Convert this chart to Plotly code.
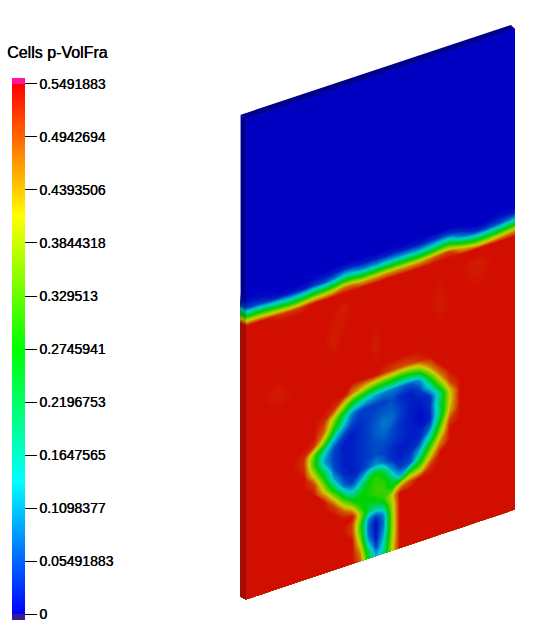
import numpy as np
import plotly.graph_objects as go

# Colour bar labels
tick_values = [0, 0.05491883, 0.1098377, 0.1647565, 0.2196753, 0.2745941, 0.329513,
               0.3844318, 0.4393506, 0.4942694, 0.5491883]
tick_labels = ["0", "0.05491883", "0.1098377", "0.1647565", "0.2196753", "0.2745941",
               "0.329513", "0.3844318", "0.4393506", "0.4942694", "0.5491883"]

# Sample positions on the front face: across (screen x) and down the face from its top edge
across = [246, 262, 278, 294, 304, 314, 324, 334, 344, 352, 360, 368, 376, 384, 392, 400,
          410, 420, 430, 440, 450, 460, 476, 495, 515]
down = [0, 150, 178, 184, 190, 196, 202, 208, 214, 222, 250, 270, 290, 300, 310, 320, 330, 340,
        350, 360, 370, 380, 390, 400, 410, 418, 426, 434, 442, 450, 458, 466, 474, 481]

# Volume fraction, in hundredths
volfrac_pct = [
 [0]*25,
 [0]*25,
 [0]*25,
 [1,1,0,0,0,1,1,2,3,3,2,2,2,2,2,2,2,2,3,4,4,2,0,1,2],
 [5,4,2,2,2,4,5,8,13,13,10,10,10,11,11,11,11,11,13,15,17,9,3,5,11],
 [21,20,17,15,17,20,21,24,29,29,26,26,26,27,27,27,27,27,29,33,34,26,18,21,27],
 [39,38,35,33,35,38,39,42,47,47,44,44,44,45,45,45,45,45,47,50,51,44,36,39,45],
 [54,54,52,51,52,54,54,54,54,54,54,54,54,54,54,54,54,54,54,54,54,54,54,54,54],
 [54,54,54,54,54,54,54,54,54,54,54,54,54,54,54,54,54,54,54,54,54,54,54,54,54],
 [54,54,54,54,54,54,54,54,53,54,54,54,54,54,54,54,54,54,54,54,54,54,53,54,54],
 [54,54,54,54,54,54,54,53,54,54,54,54,54,54,54,54,54,54,54,53,54,54,54,54,54],
 [54,54,54,54,54,54,54,54,54,54,54,54,53,54,54,54,54,54,54,54,54,54,54,54,54],
 [54,54,53,54,54,54,54,54,54,54,54,54,54,54,54,54,54,54,54,54,54,54,54,54,54],
 [54,54,54,54,54,54,54,54,54,54,54,54,54,52,51,50,50,52,54,54,54,54,54,54,54],
 [54,54,54,54,54,54,54,54,54,47,42,37,33,31,30,28,29,34,46,54,54,54,54,54,54],
 [54,54,54,54,54,54,54,52,38,27,20,14,11,9,8,7,6,10,30,47,54,54,54,54,54],
 [54,54,54,54,54,54,52,38,22,9,5,4,4,4,5,3,2,4,15,34,51,54,54,54,54],
 [54,54,54,54,54,54,48,29,12,5,3,4,5,6,6,4,2,2,3,19,42,54,54,54,54],
 [54,54,54,54,54,52,36,13,4,2,3,4,6,8,7,4,2,1,3,21,41,54,54,54,54],
 [54,54,54,54,52,34,16,5,2,2,3,4,6,7,5,3,2,1,2,21,44,54,54,54,54],
 [54,54,54,54,52,31,11,4,2,2,3,4,5,5,4,3,2,2,6,29,51,54,54,54,54],
 [54,54,54,54,54,40,22,5,2,2,3,4,5,4,3,2,2,3,17,38,54,54,54,54,54],
 [54,54,54,54,54,51,32,11,3,2,3,6,10,7,3,2,3,11,31,47,54,54,54,54,54],
 [54,54,54,54,54,54,42,24,7,4,10,22,29,24,10,4,6,24,42,54,54,54,54,54,54],
 [54,54,54,54,54,54,54,41,24,15,22,28,31,30,23,13,34,40,52,54,54,54,54,54,54],
 [54,54,54,54,54,54,54,51,37,28,27,28,31,31,27,42,50,54,54,54,54,54,54,54,54],
 [54,54,54,54,54,54,54,54,49,42,29,26,27,30,40,54,54,54,54,54,54,54,54,54,54],
 [54,54,54,54,54,54,54,54,54,54,38,22,17,22,38,54,54,54,54,54,54,54,54,54,54],
 [54,54,54,54,54,54,54,54,54,51,34,10,3,10,37,54,54,54,54,54,54,54,54,54,54],
 [54,54,54,54,54,54,54,54,54,51,33,7,1,8,36,54,54,54,54,54,54,54,54,54,54],
 [54,54,54,54,54,54,54,54,54,54,36,8,1,10,36,54,54,54,54,54,54,54,54,54,54],
 [54,54,54,54,54,54,54,54,54,54,42,14,2,13,37,54,54,54,54,54,54,54,54,54,54],
 [54,54,54,54,54,54,54,54,54,54,47,22,6,16,39,54,54,54,54,54,54,54,54,54,54],
 [54,54,54,54,54,54,54,54,54,54,49,28,12,20,40,54,54,54,54,54,54,54,54,54,54],
]

VMAX = 0.5491883
STEP = VMAX / 176


def rainbow(k, blue):
    """Hue ramp, dimmed by factor k to mimic the lighting on the slab."""
    c = lambda r, g, b: f"rgb({int(r*k)},{int(g*k)},{int(b*k)})"
    return [[0, f"rgb(0,0,{blue})"], [0.25, c(0, 255, 255)], [0.5, c(0, 255, 0)],
            [0.75, c(255, 255, 0)], [1, c(255, 0, 0)]]


z = np.array(volfrac_pct) / 100.0
A, D = np.meshgrid(across, down)
face_x = A.astype(float)
face_y = 118.5 + D - (90.0 / 269.0) * (A - 246)

carpet_axis = dict(startline=False, endline=False, showgrid=False, showticklabels="none",
                   minorgridcount=0, smoothing=0, linewidth=0, title=dict(text=""))

fig = go.Figure()

# Top edge of the slab
fig.add_trace(go.Scatter(x=[240, 511, 515, 246, 240], y=[115, 25, 29, 119, 115], mode="lines",
                         fill="toself", fillcolor="rgb(0,0,140)", line=dict(width=0),
                         hoverinfo="skip", showlegend=False))

# Left edge of the slab
side_b = np.array(down, dtype=float)
fig.add_trace(go.Carpet(carpet="side", a=[0, 1], b=down,
                        x=np.column_stack([np.full(len(down), 240.5), np.full(len(down), 246.0)]),
                        y=np.column_stack([115.5 + side_b, 118.5 + side_b]),
                        aaxis=carpet_axis, baxis=carpet_axis))
fig.add_trace(go.Contourcarpet(carpet="side", a=[0, 1], b=down,
                               z=np.column_stack([z[:, 0], z[:, 0]]),
                               autocontour=False, zmin=0, zmax=VMAX,
                               contours=dict(start=-STEP / 2, end=VMAX, size=STEP, coloring="fill"),
                               colorscale=rainbow(0.65, 140), line=dict(width=0), showscale=False))

# Front face
fig.add_trace(go.Carpet(carpet="face", a=across, b=down, x=face_x, y=face_y,
                        aaxis=carpet_axis, baxis=carpet_axis))
fig.add_trace(go.Contourcarpet(carpet="face", a=across, b=down, z=z,
                               autocontour=False, zmin=0, zmax=VMAX,
                               contours=dict(start=-STEP / 2, end=VMAX, size=STEP, coloring="fill"),
                               colorscale=rainbow(0.82, 195), line=dict(width=0), showscale=False))

# Scalar bar, including the below and above range swatches
below, above = -0.0062, VMAX + 0.0062
span = above - below
f0 = (0 - below) / span
f1 = (VMAX - below) / span
ramp = [f0 + (f1 - f0) * s for s in (0, 0.25, 0.5, 0.75, 1)]
bar_scale = [[0, "rgb(52,28,150)"], [f0 - 1e-4, "rgb(52,28,150)"],
             [ramp[0], "rgb(0,0,255)"], [ramp[1], "rgb(0,255,255)"], [ramp[2], "rgb(0,255,0)"],
             [ramp[3], "rgb(255,255,0)"], [ramp[4], "rgb(255,0,0)"],
             [f1 + 1e-4, "rgb(255,20,160)"], [1, "rgb(255,20,160)"]]
fig.add_trace(go.Scatter(
    x=[-50, -50], y=[-50, -50], mode="markers", hoverinfo="skip", showlegend=False,
    marker=dict(color=[below, above], cmin=below, cmax=above, colorscale=bar_scale, size=1,
                opacity=0, showscale=True,
                colorbar=dict(lenmode="pixels", len=542, thicknessmode="pixels", thickness=13,
                              xref="paper", yref="paper", x=12 / 537, xanchor="left",
                              y=(630 - 349) / 630, yanchor="middle", xpad=0, ypad=0,
                              outlinewidth=0, ticks="outside", ticklen=12, tickcolor="black",
                              tickwidth=1, tickmode="array", tickvals=tick_values,
                              ticktext=tick_labels,
                              tickfont=dict(family="Liberation Sans", size=14, color="black",
                                            shadow="0.4px 0 0 black")))))

fig.add_annotation(text="Cells p-VolFra", xref="paper", yref="paper", x=5 / 537, y=(630 - 52) / 630,
                   xanchor="left", yanchor="middle", showarrow=False,
                   font=dict(family="Liberation Sans", size=16, color="black",
                             shadow="0.4px 0 0 black"))

fig.update_layout(
    width=537, height=630, autosize=False, margin=dict(l=0, r=0, t=0, b=0),
    paper_bgcolor="white", plot_bgcolor="white", showlegend=False,
    xaxis=dict(range=[0, 537], visible=False, fixedrange=True),
    yaxis=dict(range=[630, 0], visible=False, fixedrange=True),
)
fig.write_html("out.html", config=dict(displayModeBar=False),
               post_script="document.body.style.margin='0';document.documentElement.style.overflow='hidden';")
